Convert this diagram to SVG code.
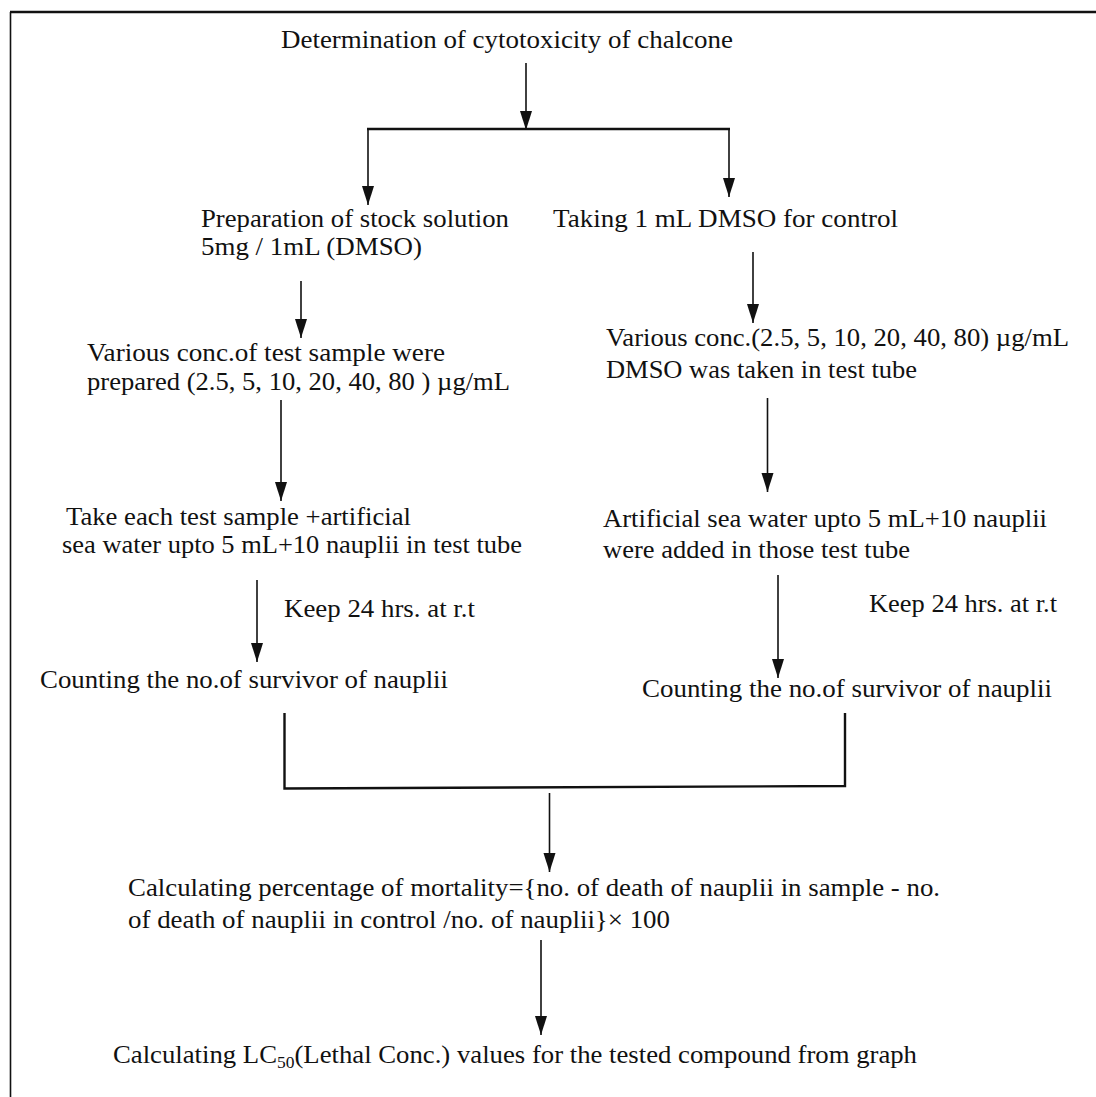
<svg xmlns="http://www.w3.org/2000/svg" width="1096" height="1097" viewBox="0 0 1096 1097">
<style>
text{font-family:"Liberation Serif","Times New Roman",serif;font-size:26px;fill:#111}
.ln{stroke:#111;stroke-width:1.6;fill:none}
.thk{stroke:#111;stroke-width:2.4;fill:none}
.ar{marker-end:url(#ah)}
</style>
<defs>
<marker id="ah" markerUnits="userSpaceOnUse" markerWidth="22" markerHeight="14" refX="19" refY="6" orient="auto">
<path d="M0,0 L19,6 L0,12 z" fill="#111"/>
</marker>
</defs>
<rect width="1096" height="1097" fill="#fff"/>
<g id="frame">
<line class="thk" x1="10" y1="12" x2="1096" y2="12"/>
<line class="ln" x1="10.5" y1="12" x2="10.5" y2="1097"/>
</g>
<g id="connectors">
<line class="ln ar" x1="526" y1="63" x2="526" y2="130"/>
<line class="thk" x1="367" y1="129" x2="730" y2="129"/>
<line class="ln ar" x1="368" y1="129" x2="368" y2="205"/>
<line class="ln ar" x1="729" y1="129" x2="729" y2="197"/>
<line class="ln ar" x1="301" y1="281" x2="301" y2="338"/>
<line class="ln ar" x1="753" y1="252" x2="753" y2="323"/>
<line class="ln ar" x1="281" y1="400" x2="281" y2="501"/>
<line class="ln ar" x1="767.5" y1="398" x2="767.5" y2="492"/>
<line class="ln ar" x1="257" y1="580" x2="257" y2="662"/>
<line class="ln ar" x1="778" y1="575" x2="778" y2="678"/>
<path class="thk" d="M284.5,713 L284.5,788.5 L845,786 L845,713"/>
<line class="ln ar" x1="549.5" y1="793" x2="549.5" y2="872"/>
<line class="ln ar" x1="541" y1="940" x2="541" y2="1035"/>
</g>
<g id="n-title"><text x="281" y="48" textLength="452" lengthAdjust="spacingAndGlyphs">Determination of cytotoxicity of chalcone</text></g>
<g id="n-stock">
<text x="201" y="227" textLength="308" lengthAdjust="spacingAndGlyphs">Preparation of stock solution</text>
<text x="201" y="255" textLength="221" lengthAdjust="spacingAndGlyphs">5mg / 1mL (DMSO)</text>
</g>
<g id="n-control"><text x="553" y="227" textLength="345" lengthAdjust="spacingAndGlyphs">Taking 1 mL DMSO for control</text></g>
<g id="n-various-left">
<text x="87" y="361" textLength="358" lengthAdjust="spacingAndGlyphs">Various conc.of test sample were</text>
<text x="87" y="390" textLength="423" lengthAdjust="spacingAndGlyphs">prepared (2.5, 5, 10, 20, 40, 80 ) µg/mL</text>
</g>
<g id="n-various-right">
<text x="606" y="346" textLength="463" lengthAdjust="spacingAndGlyphs">Various conc.(2.5, 5, 10, 20, 40, 80) µg/mL</text>
<text x="606" y="378" textLength="311" lengthAdjust="spacingAndGlyphs">DMSO was taken in test tube</text>
</g>
<g id="n-take-left">
<text x="66" y="525" textLength="345" lengthAdjust="spacingAndGlyphs">Take each test sample +artificial</text>
<text x="62" y="553" textLength="460" lengthAdjust="spacingAndGlyphs">sea water upto 5 mL+10 nauplii in test tube</text>
</g>
<g id="n-add-right">
<text x="603" y="527" textLength="444" lengthAdjust="spacingAndGlyphs">Artificial sea water upto 5 mL+10 nauplii</text>
<text x="603" y="558" textLength="307" lengthAdjust="spacingAndGlyphs">were added in those test tube</text>
</g>
<g id="lbl-keep-left"><text x="284" y="617" textLength="191" lengthAdjust="spacingAndGlyphs">Keep 24 hrs. at r.t</text></g>
<g id="lbl-keep-right"><text x="869" y="612" textLength="188" lengthAdjust="spacingAndGlyphs">Keep 24 hrs. at r.t</text></g>
<g id="n-count-left"><text x="40" y="688" textLength="408" lengthAdjust="spacingAndGlyphs">Counting the no.of survivor of nauplii</text></g>
<g id="n-count-right"><text x="642" y="697" textLength="410" lengthAdjust="spacingAndGlyphs">Counting the no.of survivor of nauplii</text></g>
<g id="n-mortality">
<text x="128" y="896" textLength="812" lengthAdjust="spacingAndGlyphs">Calculating percentage of mortality={no. of death of nauplii in sample - no.</text>
<text x="128" y="928" textLength="542" lengthAdjust="spacingAndGlyphs">of death of nauplii in control /no. of nauplii}× 100</text>
</g>
<g id="n-lc50">
<text x="113" y="1063" textLength="804" lengthAdjust="spacingAndGlyphs">Calculating LC<tspan font-size="17" dy="5">50</tspan><tspan dy="-5">(Lethal Conc.) values for the tested compound from graph</tspan></text>
</g>
</svg>
